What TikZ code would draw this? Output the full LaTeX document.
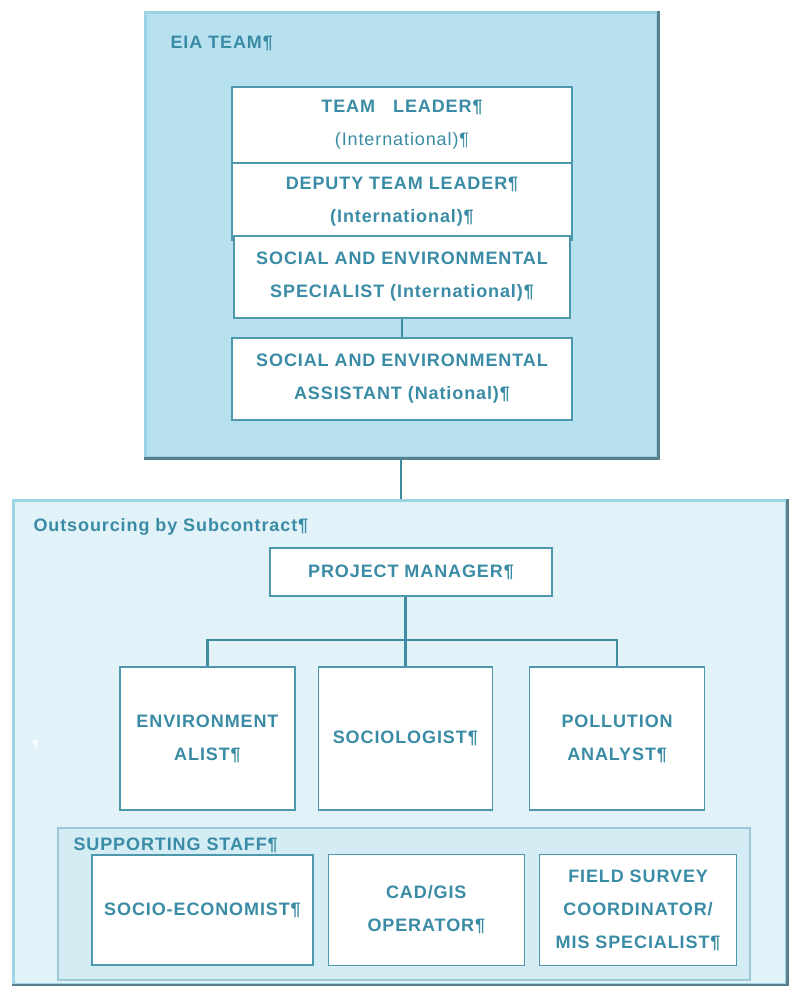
\documentclass[tikz,border=0pt]{standalone}
\usepackage{fontspec}
\setmainfont[LetterSpace=5]{Liberation Sans}
\usepackage{tikz}
\usetikzlibrary{shadows}
\usetikzlibrary{positioning}

\definecolor{teamfill}{HTML}{B7E1EE}
\definecolor{subfill}{HTML}{E1F2F9}
\definecolor{stafffill}{HTML}{D4ECF4}
\definecolor{framecol}{HTML}{9AD4E5}
\definecolor{staffedge}{HTML}{9CC9D6}
\definecolor{darkedge}{HTML}{5A808C}
\definecolor{postcol}{HTML}{4E98AD}
\definecolor{linkcol}{HTML}{3F8B9F}
\definecolor{labeltext}{HTML}{3A8BA5}

\begin{document}
\begin{tikzpicture}[x=1pt, y=-1pt,
        every node/.style={font=\fontsize{18}{33}\selectfont\bfseries, text=labeltext},
        frame/.style={rectangle, draw=framecol, line width=3pt},
        bevel/.style={draw=darkedge, line width=3.5pt, line join=miter},
        subframe/.style={rectangle, draw=staffedge, line width=2.5pt},
        post/.style={rectangle, draw=postcol, fill=white, line width=1.3pt, align=center, inner sep=0pt},
        caption/.style={anchor=base west},
        link/.style={draw=linkcol, line width=2.5pt}
      ]
        \useasboundingbox (0,0) rectangle (792,986);

        % EIA team
        \node[frame, fill=teamfill, minimum width=512pt, minimum height=445pt]  (eia)  at (401,234.5)  {};
        \draw[bevel]  (eia.north east) -- (eia.south east) -- (eia.south west);
        \node[caption]  (eiacap)  at (167,48)  {EIA TEAM¶};
        \node[post, minimum width=340pt, minimum height=76pt]  (leader)  at (402,125)  {TEAM\quad LEADER¶\\{\mdseries (International)¶}};
        \node[post, minimum width=340pt, minimum height=77pt]  (deputy)  at (402,201.5)  {DEPUTY TEAM LEADER¶\\(International)¶};
        \node[post, minimum width=336pt, minimum height=82pt]  (specialist)  at (402,277)  {SOCIAL AND ENVIRONMENTAL\\SPECIALIST (International)¶};
        \node[post, minimum width=340pt, minimum height=82pt]  (assistant)  at (402,379)  {SOCIAL AND ENVIRONMENTAL\\ASSISTANT (National)¶};

        % subcontract
        \node[frame, fill=subfill, minimum width=773pt, minimum height=484pt]  (outsrc)  at (399.5,742)  {};
        \draw[bevel]  (outsrc.north east) -- (outsrc.south east) -- (outsrc.south west);
        \node[caption]  (outcap)  at (30,531)  {Outsourcing by Subcontract¶};
        \node[post, minimum width=282pt, minimum height=48pt]  (pm)  at (411,572)  {PROJECT MANAGER¶};
        \node[post, minimum width=175pt, minimum height=143pt]  (env)  at (207.5,738.5)  {ENVIRONMENT\\ALIST¶};
        \node[post, minimum width=174pt, minimum height=143pt]  (soc)  [right=22pt of env]  {SOCIOLOGIST¶};
        \node[post, minimum width=175pt, minimum height=143pt]  (pol)  [right=36pt of soc]  {POLLUTION\\ANALYST¶};
        \node[font=\fontsize{12}{14}\selectfont\bfseries, text=white]  (mark)  at (36,745)  {¶};

        % supporting staff
        \node[subframe, fill=stafffill, minimum width=692pt, minimum height=152pt]  (staff)  at (404,904)  {};
        \node[caption]  (staffcap)  at (70,850)  {SUPPORTING STAFF¶};
        \node[post, minimum width=221pt, minimum height=110pt]  (socio)  at (202.5,910)  {SOCIO-ECONOMIST¶};
        \node[post, minimum width=196pt, minimum height=111pt]  (cad)  [right=14pt of socio]  {CAD/GIS\\OPERATOR¶};
        \node[post, minimum width=197pt, minimum height=111pt]  (field)  [right=14pt of cad]  {FIELD SURVEY\\COORDINATOR/\\MIS SPECIALIST¶};

        \coordinate (fork) at (400,640);

        \draw[link]  (specialist.south) -- (assistant.north);
        \draw[link]  (eia.south) -- (eia.south |- outsrc.north);
        \draw[link]  (pm.south -| soc.north) -- (soc.north);
        \draw[link]  (env.north) |- (fork) -| (pol.north);
      \end{tikzpicture}
\end{document}
